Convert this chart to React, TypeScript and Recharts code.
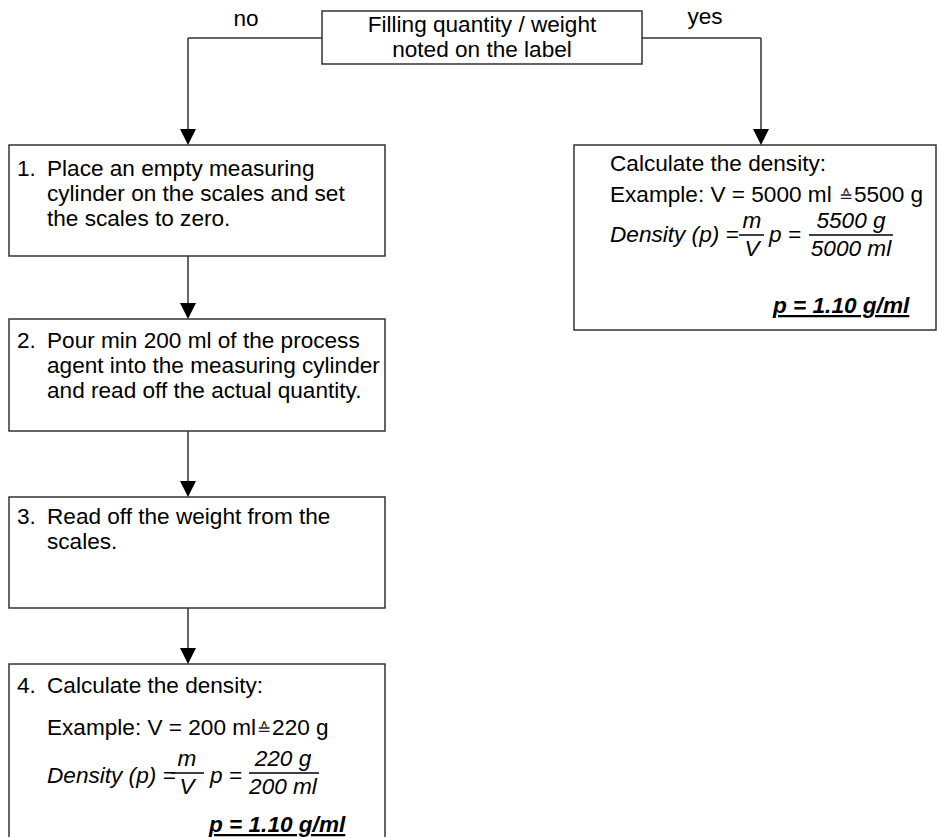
import React from "react";
import {
  ScatterChart,
  Scatter,
  XAxis,
  YAxis,
  ReferenceArea,
  ReferenceLine,
  ReferenceDot,
} from "recharts";

// content
const DECISION = ["Filling quantity / weight", "noted on the label"];
const BRANCH_LABELS = ["no", "yes"];
const STEP_NUMBERS = ["1.", "2.", "3.", "4."];
const STEP_TEXT = [
  ["Place an empty measuring", "cylinder on the scales and set", "the scales to zero."],
  ["Pour min 200 ml of the process", "agent into the measuring cylinder", "and read off the actual quantity."],
  ["Read off the weight from the", "scales."],
];
const CALC_TITLE = "Calculate the density:";
const EXAMPLE_LINES = ["Example: V = 200 ml\u2259220 g", "Example: V = 5000 ml \u22595500 g"];
const VOLUMES = ["200 ml", "5000 ml"];
const MASSES = ["220 g", "5500 g"];
const RESULTS = ["p = 1.10 g/ml", "p = 1.10 g/ml"];

// layout (chart units = px, domain matches the canvas)
const W = 937;
const H = 837;
const FONT = "'Liberation Sans', Arial, sans-serif";
const FONT_SIZE = 22.6;
const STROKE = "#333";
const CORRESPONDS = "\u2259";

const DECISION_BOX = { x1: 322, y1: 11, x2: 642, y2: 64 };
const STEP_BOXES = [
  { x1: 9, y1: 145, x2: 385, y2: 256 },
  { x1: 9, y1: 319, x2: 385, y2: 431 },
  { x1: 9, y1: 497, x2: 385, y2: 608 },
  { x1: 9, y1: 664, x2: 385, y2: 850 },
];
const YES_BOX = { x1: 574, y1: 145, x2: 936, y2: 330 };
const STEP_BASELINES = [176, 348, 524, 693];

const CALC_LAYOUT = [
  { tx: 47, title: 693, ex: 735, dx: 47, dy: 783, fx: 187, fb: [171, 204], bar: 773, px: 210, vx: 283, vb: [249, 319], rx: 209, ry: 832 },
  { tx: 610, title: 171, ex: 202, dx: 610, dy: 242, fx: 752, fb: [739, 764], bar: 235, px: 769, vx: 851, vb: [809, 893], rx: 773, ry: 313 },
];

type TextItem = {
  x: number;
  y: number;
  text: string;
  anchor?: "start" | "middle";
  italic?: boolean;
  bold?: boolean;
  underline?: boolean;
};

const texts: TextItem[] = [];
DECISION.forEach((t, i) => texts.push({ x: 482, y: 32 + i * 25, text: t, anchor: "middle" }));
texts.push({ x: 246, y: 26, text: BRANCH_LABELS[0], anchor: "middle" });
texts.push({ x: 705, y: 24, text: BRANCH_LABELS[1], anchor: "middle" });
STEP_NUMBERS.forEach((n, i) => texts.push({ x: 17, y: STEP_BASELINES[i], text: n }));
STEP_TEXT.forEach((lines, i) =>
  lines.forEach((t, j) => texts.push({ x: 47, y: STEP_BASELINES[i] + j * 25, text: t }))
);

const fractionBars: { x1: number; x2: number; y: number }[] = [];
CALC_LAYOUT.forEach((c, i) => {
  texts.push({ x: c.tx, y: c.title, text: CALC_TITLE });
  texts.push({ x: c.tx, y: c.ex, text: EXAMPLE_LINES[i] });
  texts.push({ x: c.dx, y: c.dy, text: "Density (p) =", italic: true });
  texts.push({ x: c.fx, y: c.bar - 7, text: "m", anchor: "middle", italic: true });
  texts.push({ x: c.fx, y: c.bar + 21, text: "V", anchor: "middle", italic: true });
  texts.push({ x: c.px, y: c.dy, text: "p =", italic: true });
  texts.push({ x: c.vx, y: c.bar - 7, text: MASSES[i], anchor: "middle", italic: true });
  texts.push({ x: c.vx, y: c.bar + 21, text: VOLUMES[i], anchor: "middle", italic: true });
  texts.push({ x: c.rx, y: c.ry, text: RESULTS[i], italic: true, bold: true, underline: true });
  fractionBars.push({ x1: c.fb[0], x2: c.fb[1], y: c.bar });
  fractionBars.push({ x1: c.vb[0], x2: c.vb[1], y: c.bar });
});

const connectors = [
  [{ x: 322, y: 38 }, { x: 188, y: 38 }],
  [{ x: 188, y: 38 }, { x: 188, y: 132 }],
  [{ x: 642, y: 38 }, { x: 761, y: 38 }],
  [{ x: 761, y: 38 }, { x: 761, y: 132 }],
  [{ x: 188, y: 256 }, { x: 188, y: 306 }],
  [{ x: 188, y: 431 }, { x: 188, y: 484 }],
  [{ x: 188, y: 608 }, { x: 188, y: 651 }],
];
const arrowTips = [
  { x: 188, y: 145 },
  { x: 761, y: 145 },
  { x: 188, y: 319 },
  { x: 188, y: 497 },
  { x: 188, y: 664 },
];

const Arrow = (props: any) => {
  const { cx, cy } = props;
  return <polygon points={`${cx},${cy} ${cx - 8},${cy - 16} ${cx + 8},${cy - 16}`} fill="#000" />;
};

const Label = (props: any) => {
  const { cx, cy, payload } = props;
  const p = payload as TextItem;
  const parts = p.text.split(CORRESPONDS);
  return (
    <text
      x={cx}
      y={cy}
      textAnchor={p.anchor || "start"}
      fontFamily={FONT}
      fontSize={FONT_SIZE}
      fontStyle={p.italic ? "italic" : "normal"}
      fontWeight={p.bold ? "bold" : "normal"}
      textDecoration={p.underline ? "underline" : undefined}
      fill="#000"
    >
      {parts.length === 1 ? (
        p.text
      ) : (
        <>
          <tspan>{parts[0]}</tspan>
          <tspan fontSize={FONT_SIZE * 0.75} fill="#222" dx={1}>
            {CORRESPONDS}
          </tspan>
          <tspan dx={1}>{parts[1]}</tspan>
        </>
      )}
    </text>
  );
};

const boxProps = { stroke: STROKE, strokeWidth: 1.5, fill: "#fff", fillOpacity: 1, ifOverflow: "visible" as const };

export default function App() {
  return (
    <div style={{ position: "absolute", left: 0, top: 0, background: "#fff" }}>
      <ScatterChart width={W} height={H} margin={{ top: 0, right: 0, bottom: 0, left: 0 }}>
        <XAxis type="number" dataKey="x" domain={[0, W]} hide allowDataOverflow />
        <YAxis type="number" dataKey="y" domain={[0, H]} reversed hide allowDataOverflow />
        {connectors.map((seg, i) => (
          <ReferenceLine key={`c${i}`} segment={seg} stroke={STROKE} strokeWidth={1.5} ifOverflow="visible" />
        ))}
        <ReferenceArea {...DECISION_BOX} {...boxProps} />
        <ReferenceArea {...YES_BOX} {...boxProps} />
        {STEP_BOXES.map((b, i) => (
          <ReferenceArea key={`b${i}`} {...b} {...boxProps} />
        ))}
        {arrowTips.map((a, i) => (
          <ReferenceDot key={`a${i}`} x={a.x} y={a.y} r={1} shape={Arrow} ifOverflow="visible" />
        ))}
        {fractionBars.map((f, i) => (
          <ReferenceLine
            key={`f${i}`}
            segment={[{ x: f.x1, y: f.y }, { x: f.x2, y: f.y }]}
            stroke="#000"
            strokeWidth={1.5}
            ifOverflow="visible"
          />
        ))}
        <Scatter data={texts} shape={Label} isAnimationActive={false} />
      </ScatterChart>
    </div>
  );
}
